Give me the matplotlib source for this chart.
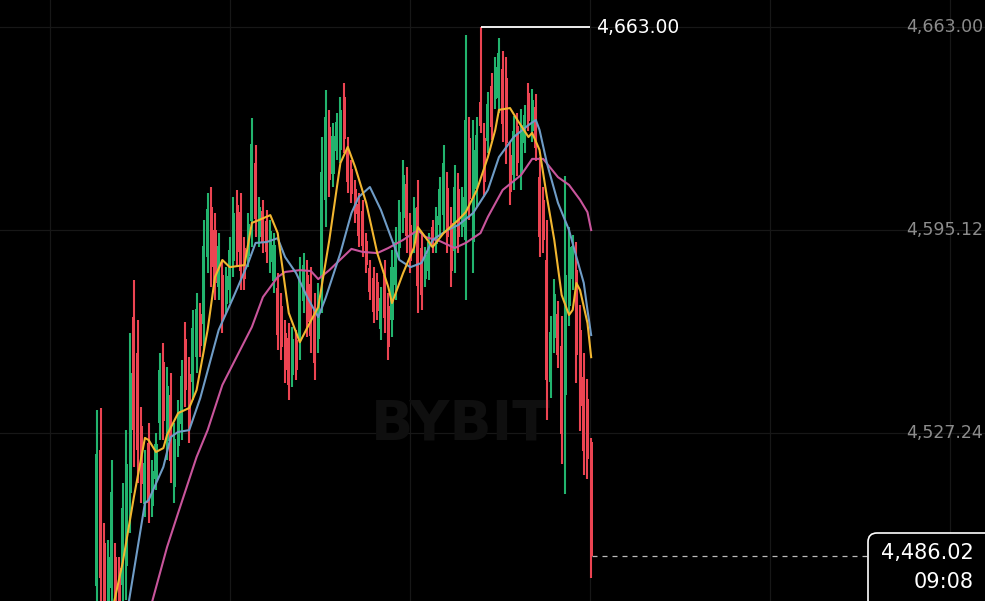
import numpy as np
import matplotlib.pyplot as plt
from matplotlib.patches import FancyBboxPatch
from matplotlib.transforms import IdentityTransform

# ── Dados ────────────────────────────────────────────────────────────────────
opens = [
    4476.1, 4521.5, 4490.5, 4468.7, 4475.4, 4485.8, 4482.1, 4476.4, 4482.8, 4507.2,
    4566.0, 4554.0, 4529.6, 4503.5, 4523.9, 4502.8, 4511.9, 4530.6, 4551.0, 4524.6,
    4539.9, 4509.2, 4522.9, 4530.2, 4558.7, 4547.0, 4544.3, 4552.6, 4567.0, 4563.7,
    4586.1, 4602.8, 4595.1, 4576.0, 4580.1, 4570.4, 4575.0, 4584.8, 4603.5, 4601.1,
    4589.1, 4586.4, 4598.1, 4617.5, 4592.8, 4601.5, 4598.1, 4584.4, 4578.1, 4575.7,
    4569.7, 4560.7, 4559.0, 4546.6, 4558.3, 4558.7, 4571.4, 4580.1, 4577.1, 4568.4,
    4558.7, 4579.1, 4605.2, 4629.6, 4613.9, 4621.5, 4621.9, 4639.6, 4622.5, 4615.5,
    4608.8, 4603.8, 4601.5, 4591.4, 4582.4, 4579.1, 4577.7, 4562.0, 4580.1, 4569.7,
    4565.0, 4576.7, 4589.1, 4599.1, 4610.5, 4596.8, 4591.1, 4602.8, 4589.1, 4578.7,
    4581.4, 4596.1, 4590.4, 4596.8, 4600.1, 4609.2, 4597.5, 4588.1, 4608.8, 4596.1,
    4591.8, 4625.9, 4591.1, 4608.8, 4638.0, 4625.9, 4624.9, 4643.3, 4638.9, 4639.3,
    4648.9, 4645.9, 4620.2, 4613.5, 4629.9, 4613.8, 4624.2, 4640.9, 4628.2, 4636.2,
    4612.8, 4605.2, 4585.1, 4544.3, 4559.0, 4567.0, 4556.3, 4540.0, 4569.7, 4578.7,
    4581.7, 4561.7, 4546.0, 4538.6, 4524.2,
]
highs = [
    4534.9, 4535.6, 4497.1, 4491.5, 4518.2, 4490.5, 4485.8, 4510.5, 4528.2, 4560.7,
    4578.4, 4565.0, 4535.9, 4521.5, 4530.6, 4518.2, 4527.2, 4554.0, 4557.3, 4549.3,
    4547.3, 4530.6, 4538.3, 4551.6, 4564.4, 4552.6, 4568.4, 4574.0, 4570.7, 4598.5,
    4607.5, 4609.5, 4600.8, 4594.1, 4585.1, 4582.7, 4592.8, 4606.2, 4608.5, 4607.5,
    4592.8, 4600.8, 4632.6, 4623.5, 4606.2, 4605.2, 4601.8, 4598.5, 4594.1, 4580.7,
    4574.0, 4565.0, 4564.0, 4562.7, 4561.7, 4586.1, 4587.4, 4585.1, 4582.7, 4574.0,
    4577.4, 4626.2, 4641.9, 4635.3, 4630.9, 4634.2, 4639.6, 4644.3, 4626.2, 4618.5,
    4611.8, 4607.5, 4605.2, 4594.1, 4585.1, 4582.7, 4580.7, 4576.0, 4585.1, 4574.0,
    4588.4, 4596.1, 4605.2, 4618.5, 4616.2, 4600.8, 4606.2, 4611.8, 4594.1, 4589.4,
    4594.1, 4598.5, 4602.8, 4612.8, 4623.5, 4614.5, 4602.8, 4616.9, 4614.2, 4609.5,
    4660.3, 4632.9, 4631.9, 4632.9, 4663.0, 4630.9, 4641.2, 4647.6, 4653.0, 4659.3,
    4655.0, 4653.0, 4624.5, 4633.2, 4634.2, 4635.6, 4636.9, 4644.3, 4642.3, 4640.6,
    4619.5, 4609.5, 4598.5, 4566.4, 4578.7, 4571.4, 4566.4, 4613.2, 4596.1, 4593.4,
    4591.1, 4570.0, 4554.0, 4545.3, 4525.6,
]
lows = [
    4461.4, 4464.7, 4463.0, 4463.0, 4464.7, 4466.4, 4466.4, 4468.1, 4471.4, 4493.8,
    4515.9, 4510.5, 4503.8, 4499.2, 4497.1, 4499.2, 4508.2, 4524.9, 4524.9, 4518.2,
    4510.5, 4503.8, 4519.2, 4524.9, 4535.9, 4523.9, 4538.3, 4547.3, 4552.6, 4555.0,
    4580.7, 4576.0, 4571.7, 4571.7, 4560.7, 4567.4, 4570.7, 4579.4, 4582.7, 4575.0,
    4575.0, 4582.7, 4589.4, 4592.8, 4589.4, 4587.4, 4584.1, 4580.7, 4574.0, 4555.0,
    4551.6, 4543.9, 4538.3, 4542.6, 4544.9, 4551.6, 4567.4, 4559.3, 4554.0, 4544.9,
    4554.0, 4567.4, 4596.1, 4606.2, 4609.5, 4618.5, 4617.5, 4620.9, 4607.5, 4604.2,
    4597.5, 4589.4, 4586.1, 4580.7, 4571.7, 4564.0, 4565.0, 4558.3, 4560.7, 4551.6,
    4559.3, 4571.7, 4585.1, 4594.1, 4587.4, 4580.7, 4587.4, 4567.4, 4568.4, 4576.0,
    4578.4, 4587.4, 4587.4, 4592.8, 4594.1, 4587.4, 4576.0, 4580.7, 4587.4, 4592.8,
    4571.7, 4598.5, 4580.7, 4602.8, 4627.6, 4606.2, 4620.9, 4625.2, 4635.6, 4634.2,
    4624.5, 4617.2, 4603.5, 4608.5, 4613.2, 4608.5, 4620.9, 4628.2, 4624.5, 4618.2,
    4586.1, 4587.4, 4531.6, 4538.9, 4554.0, 4549.0, 4516.9, 4506.8, 4563.0, 4575.0,
    4543.9, 4527.9, 4513.2, 4511.9, 4478.8,
]
closes = [
    4520.2, 4478.8, 4469.7, 4485.8, 4507.5, 4471.0, 4470.1, 4502.2, 4516.9, 4547.3,
    4528.2, 4521.5, 4510.2, 4517.2, 4503.8, 4514.5, 4523.6, 4548.3, 4531.2, 4543.0,
    4517.9, 4525.2, 4534.6, 4546.3, 4541.6, 4529.6, 4562.3, 4568.7, 4556.3, 4589.8,
    4602.1, 4582.7, 4577.4, 4589.8, 4565.7, 4579.7, 4588.4, 4600.8, 4587.8, 4581.4,
    4578.7, 4597.1, 4623.9, 4598.8, 4602.8, 4591.1, 4587.8, 4594.8, 4590.1, 4560.0,
    4556.0, 4548.3, 4543.3, 4558.7, 4548.3, 4579.1, 4583.4, 4564.4, 4559.7, 4550.6,
    4572.7, 4614.5, 4632.9, 4611.8, 4626.6, 4631.2, 4635.3, 4625.6, 4611.2, 4607.2,
    4600.5, 4593.1, 4589.8, 4583.4, 4574.4, 4567.7, 4568.0, 4572.4, 4565.7, 4556.0,
    4582.7, 4591.1, 4601.1, 4613.5, 4593.1, 4584.8, 4602.5, 4576.4, 4573.4, 4586.8,
    4591.1, 4589.8, 4599.8, 4608.8, 4617.5, 4592.8, 4581.4, 4609.5, 4592.8, 4606.2,
    4631.9, 4605.5, 4621.9, 4626.9, 4630.0, 4611.2, 4637.2, 4629.6, 4649.6, 4654.3,
    4630.6, 4624.2, 4607.8, 4628.2, 4617.5, 4630.2, 4633.6, 4631.6, 4638.6, 4622.5,
    4592.8, 4591.8, 4544.9, 4561.0, 4573.7, 4553.3, 4526.9, 4580.0, 4589.4, 4589.8,
    4553.3, 4536.3, 4521.2, 4518.5, 4486.02,
]

# Médias móveis (índice do candle e valor)
ma7_idx = [3, 7, 10, 13, 14, 16, 18, 19, 22, 25, 27, 30, 32, 34, 36, 40, 42, 44, 47, 49,
           50, 52, 55, 57, 60, 63, 66, 68, 70, 73, 76, 79, 80, 83, 86, 87, 89, 91, 94, 98,
           100, 103, 106, 108, 109, 112, 114, 117, 118, 120, 122, 124, 126, 128, 129, 130,
           131, 133, 134]
ma7 = [4461.4, 4484.1, 4505.8, 4525.6, 4524.9, 4520.9, 4522.2, 4526.6, 4533.9, 4535.6,
       4541.6, 4561.7, 4579.4, 4585.1, 4582.7, 4583.4, 4597.5, 4598.5, 4600.1, 4594.1,
       4585.1, 4567.4, 4557.6, 4562.4, 4569.4, 4591.8, 4617.5, 4622.9, 4616.2, 4604.2,
       4587.4, 4576.0, 4570.7, 4580.7, 4589.4, 4596.1, 4592.8, 4589.4, 4594.1, 4598.5,
       4601.1, 4608.5, 4619.5, 4628.6, 4635.3, 4635.9, 4631.9, 4626.2, 4627.6, 4621.9,
       4606.2, 4591.8, 4573.4, 4566.7, 4568.4, 4577.4, 4575.0, 4564.0, 4552.6]

ma14_idx = [8, 13, 14, 18, 20, 22, 25, 28, 33, 37, 41, 43, 46, 49, 51, 54, 57, 60, 62, 66,
            69, 71, 74, 77, 80, 82, 85, 88, 91, 95, 98, 102, 106, 109, 113, 117, 119, 120,
            122, 125, 128, 130, 132, 133, 134]
ma14 = [4466.0, 4503.8, 4504.8, 4515.9, 4525.9, 4527.6, 4528.2, 4538.9, 4561.7, 4572.7,
        4584.1, 4590.8, 4591.1, 4592.4, 4586.1, 4580.7, 4572.7, 4566.0, 4572.4, 4587.4,
        4600.8, 4606.2, 4609.5, 4601.8, 4591.8, 4585.1, 4582.7, 4584.1, 4591.8, 4595.1,
        4596.8, 4600.8, 4608.5, 4619.5, 4626.2, 4630.2, 4631.9, 4628.6, 4617.5, 4604.2,
        4595.1, 4586.1, 4577.4, 4568.4, 4560.0]

ma30_idx = [13, 19, 22, 27, 30, 34, 37, 42, 45, 49, 51, 55, 58, 60, 63, 69, 72, 76, 79, 83,
            87, 89, 93, 97, 100, 104, 106, 110, 115, 118, 121, 125, 128, 131, 133, 134]
ma30 = [4462.0, 4489.1, 4500.5, 4519.2, 4528.2, 4543.3, 4550.6, 4562.7, 4572.7, 4579.4,
        4581.1, 4581.7, 4581.4, 4578.7, 4581.7, 4588.8, 4587.8, 4587.4, 4589.1, 4591.8,
        4595.1, 4592.8, 4591.4, 4589.1, 4590.8, 4594.1, 4599.5, 4608.5, 4613.5, 4618.9,
        4618.9, 4612.8, 4610.2, 4605.2, 4601.1, 4595.1]

price_levels = [4663.00, 4595.12, 4527.24]
last_price = 4486.02
last_time = '09:08'

# ── Cores ────────────────────────────────────────────────────────────────────
COR_ALTA = '#22b46e'
COR_BAIXA = '#ec4452'
COR_MA7 = '#f2b630'
COR_MA14 = '#6f9cc6'
COR_MA30 = '#c9559c'
COR_GRADE = '#171717'

# ── Figura ───────────────────────────────────────────────────────────────────
fig = plt.figure(figsize=(9.85, 6.01), dpi=100, facecolor='black')
ax = fig.add_axes([0, 0, 1, 1])
ax.set_facecolor('black')
for s in ax.spines.values():
    s.set_visible(False)
ax.set_xticks([])
ax.set_yticks([])

n = len(closes)
x = np.arange(n)
o = np.array(opens)
c = np.array(closes)
cores = np.where(c >= o, COR_ALTA, COR_BAIXA)

# escala: ~3.69 px por candle, primeiro candle em x=97 px
ax.set_xlim(-26.3, 240.8)
ax.set_ylim(4471.07, 4672.03)

# grade
for lvl in price_levels:
    ax.axhline(lvl, color=COR_GRADE, lw=0.9, zorder=0)
for gx in np.arange(-12.75, 241, 48.82):
    ax.axvline(gx, color=COR_GRADE, lw=0.9, zorder=0)

# marca d'água
ax.text(0.468, 0.293, 'BYBIT', transform=ax.transAxes, ha='center', va='center',
        fontsize=40, fontweight='bold', color='#0f0f0f', zorder=0.5)

# candles
ax.vlines(x, lows, highs, colors=cores, lw=1.5, zorder=2)
ax.bar(x, np.maximum(np.abs(c - o), 0.6), bottom=np.minimum(o, c), width=0.82,
       color=cores, linewidth=0, zorder=2)

# médias móveis
ax.plot(ma30_idx, ma30, color=COR_MA30, lw=1.5, zorder=3)
ax.plot(ma14_idx, ma14, color=COR_MA14, lw=1.5, zorder=3)
ax.plot(ma7_idx, ma7, color=COR_MA7, lw=1.5, zorder=4)

# máxima
i_max = int(np.argmax(highs))
ax.hlines(max(highs), i_max, n - 1.3, color='white', lw=1.3, zorder=5)
ax.text(n + 0.4, max(highs), f'{max(highs):,.2f}', color='white', fontsize=13.5,
        va='center', ha='left', zorder=5)

# rótulos de preço à direita
for lvl in price_levels:
    ax.text(0.998, lvl, f'{lvl:,.2f}', transform=ax.get_yaxis_transform(),
            ha='right', va='center', fontsize=12.5, color='#8c8c8c', zorder=5)

# último preço
ax.axhline(last_price, xmin=0.601, xmax=0.881, color='#bbbbbb', lw=0.9,
           ls=(0, (4, 4)), zorder=5)
caixa = FancyBboxPatch((868, -12), 140, 80, boxstyle='round,pad=0,rounding_size=9',
                       transform=IdentityTransform(), fc='black', ec='white', lw=1.2,
                       zorder=6)
fig.add_artist(caixa)
fig.text(974 / 985, 48 / 601, f'{last_price:,.2f}', ha='right', va='center',
         fontsize=15, color='white', zorder=7)
fig.text(974 / 985, 19 / 601, last_time, ha='right', va='center',
         fontsize=15, color='white', zorder=7)

fig.savefig('out.png', dpi=100, facecolor='black')
